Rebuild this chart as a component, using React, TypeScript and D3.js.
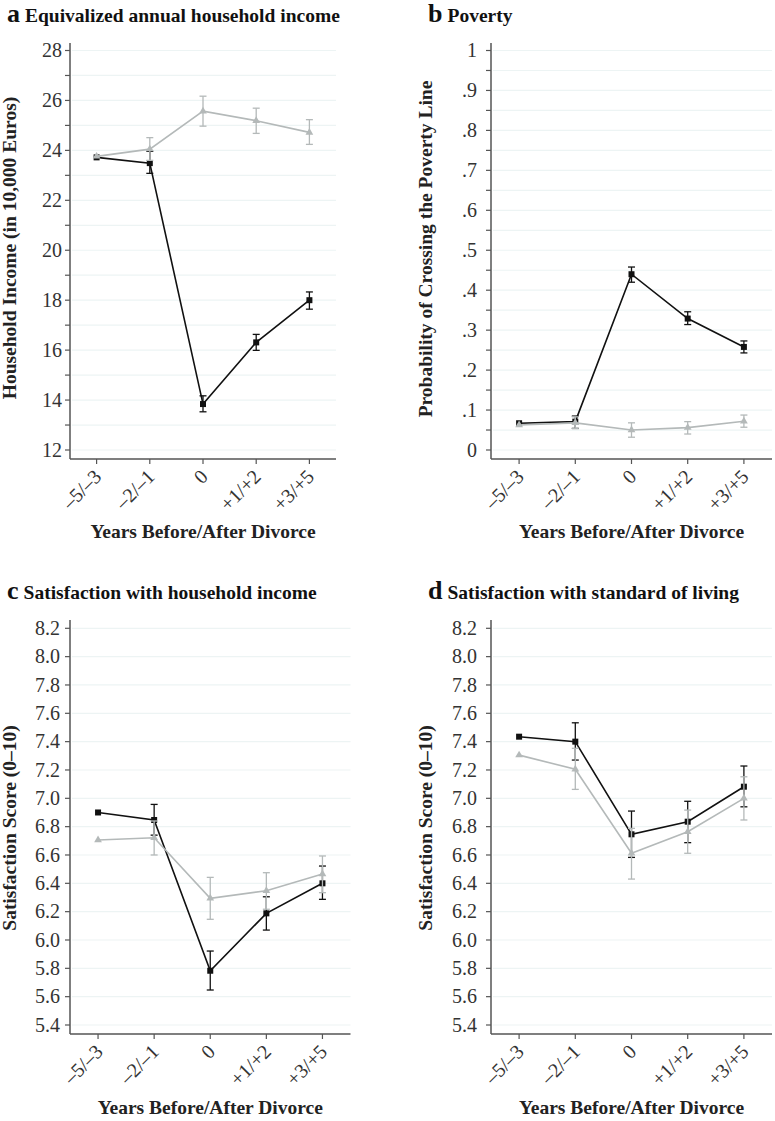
import React from "react";
import * as d3 from "d3";

const periods = ["–5/–3", "–2/–1", "0", "+1/+2", "+3/+5"];

const incomeDiv = [23.72, 23.49, 13.84, 16.31, 18.0];
const incomeDivLo = [null, 23.08, 13.53, 15.99, 17.64];
const incomeDivHi = [null, 23.96, 14.17, 16.63, 18.33];
const incomeCtrl = [23.76, 24.05, 25.57, 25.19, 24.72];
const incomeCtrlLo = [null, 23.6, 24.97, 24.68, 24.24];
const incomeCtrlHi = [null, 24.51, 26.17, 25.69, 25.23];

const povertyDiv = [0.067, 0.071, 0.44, 0.329, 0.258];
const povertyDivLo = [null, 0.054, 0.42, 0.314, 0.243];
const povertyDivHi = [null, 0.085, 0.458, 0.346, 0.273];
const povertyCtrl = [0.0625, 0.068, 0.05, 0.056, 0.072];
const povertyCtrlLo = [null, 0.054, 0.032, 0.04, 0.057];
const povertyCtrlHi = [null, 0.083, 0.068, 0.071, 0.0875];

const incSatDiv = [6.9, 6.847, 5.783, 6.188, 6.4];
const incSatDivLo = [null, 6.74, 5.647, 6.07, 6.287];
const incSatDivHi = [null, 6.957, 5.922, 6.305, 6.522];
const incSatCtrl = [6.706, 6.722, 6.294, 6.348, 6.466];
const incSatCtrlLo = [null, 6.6, 6.146, 6.217, 6.334];
const incSatCtrlHi = [null, 6.84, 6.442, 6.475, 6.593];

const livSatDiv = [7.435, 7.4, 6.746, 6.835, 7.082];
const livSatDivLo = [null, 7.27, 6.583, 6.687, 6.94];
const livSatDivHi = [null, 7.533, 6.91, 6.979, 7.228];
const livSatCtrl = [7.305, 7.205, 6.612, 6.764, 7.0];
const livSatCtrlLo = [null, 7.063, 6.43, 6.612, 6.847];
const livSatCtrlHi = [null, 7.353, 6.788, 6.917, 7.152];

const incomeTicks = [12, 14, 16, 18, 20, 22, 24, 26, 28];
const incomeMinor = [13, 15, 17, 19, 21, 23, 25, 27];
const povertyTicks = [0, 0.1, 0.2, 0.3, 0.4, 0.5, 0.6, 0.7, 0.8, 0.9, 1];
const povertyMinor = [0.05, 0.15, 0.25, 0.35, 0.45, 0.55, 0.65, 0.75, 0.85, 0.95];
const satTicks = [5.4, 5.6, 5.8, 6.0, 6.2, 6.4, 6.6, 6.8, 7.0, 7.2, 7.4, 7.6, 7.8, 8.0, 8.2];

const FONT = "'Liberation Serif', 'Times New Roman', serif";
const BLACK = "#111";
const GRAY = "#b4b9b9";
const GRID = "#edf4f4";
const AXIS = "#555";

type Series = { v: number[]; lo: (number | null)[]; hi: (number | null)[] };

type PanelProps = {
  letter: string;
  title: string;
  ytitle: string;
  left: number;
  right: number;
  frameTop: number;
  frameBottom: number;
  domain: [number, number];
  range: [number, number];
  ticks: number[];
  minor: number[];
  fmt: (v: number) => string;
  labelGap: number;
  div: Series;
  ctrl: Series;
  titleX: number;
  titleY: number;
  ytitleX: number;
  ytitleY: number;
  xtitleY: number;
};

function Panel(p: PanelProps) {
  const x = d3.scalePoint<string>().domain(periods).range([p.left, p.right]).padding(0.5);
  const y = d3.scaleLinear().domain(p.domain).range(p.range);
  const line = d3
    .line<number>()
    .x((_, i) => x(periods[i]) as number)
    .y((d) => y(d));
  const grid = [...p.ticks, ...p.minor];

  const renderSeries = (s: Series, color: string, shape: "square" | "tri") => (
    <g>
      <path d={line(s.v) || ""} fill="none" stroke={color} strokeWidth={1.6} />
      {s.v.map((v, i) => {
        const cx = x(periods[i]) as number;
        const lo = s.lo[i];
        const hi = s.hi[i];
        return (
          <g key={i}>
            {lo != null && hi != null && (
              <g stroke={color} strokeWidth={1.3}>
                <line x1={cx} x2={cx} y1={y(lo)} y2={y(hi)} />
                <line x1={cx - 3.5} x2={cx + 3.5} y1={y(lo)} y2={y(lo)} />
                <line x1={cx - 3.5} x2={cx + 3.5} y1={y(hi)} y2={y(hi)} />
              </g>
            )}
            {shape === "square" ? (
              <rect x={cx - 3} y={y(v) - 3} width={6} height={6} fill={color} />
            ) : (
              <path
                d={d3.symbol().type(d3.symbolTriangle).size(26)() || ""}
                transform={`translate(${cx},${y(v)})`}
                fill={color}
              />
            )}
          </g>
        );
      })}
    </g>
  );

  return (
    <g>
      <text x={p.titleX} y={p.titleY} fontFamily={FONT} fontWeight="bold" fill="#111">
        <tspan fontSize={26}>{p.letter}</tspan>
        <tspan fontSize={19.5} dx={5}>{p.title}</tspan>
      </text>
      {grid.map((t) => (
        <line key={"g" + t} x1={p.left + 2} x2={p.right} y1={y(t)} y2={y(t)} stroke={GRID} strokeWidth={1.2} />
      ))}
      <line x1={p.left} x2={p.left} y1={p.frameTop} y2={p.frameBottom} stroke={AXIS} strokeWidth={1.5} />
      <line x1={p.left} x2={p.right} y1={p.frameBottom} y2={p.frameBottom} stroke={AXIS} strokeWidth={1.5} />
      {grid.map((t) => (
        <line key={"t" + t} x1={p.left - 5} x2={p.left} y1={y(t)} y2={y(t)} stroke={AXIS} strokeWidth={1.2} />
      ))}
      {p.ticks.map((t) => (
        <text
          key={"l" + t}
          x={p.left - p.labelGap}
          y={y(t)}
          dy="0.34em"
          textAnchor="end"
          fontFamily={FONT}
          fontSize={20}
          fill="#333"
        >
          {p.fmt(t)}
        </text>
      ))}
      {periods.map((c) => {
        const cx = x(c) as number;
        return (
          <g key={c}>
            <line x1={cx} x2={cx} y1={p.frameBottom} y2={p.frameBottom + 5} stroke={AXIS} strokeWidth={1.2} />
            <text
              transform={`translate(${cx + 6},${p.frameBottom + 19}) rotate(-45)`}
              textAnchor="end"
              fontFamily={FONT}
              fontSize={20}
              fill="#333"
            >
              {c}
            </text>
          </g>
        );
      })}
      <text
        x={(p.left + p.right) / 2}
        y={p.xtitleY}
        textAnchor="middle"
        fontFamily={FONT}
        fontWeight="bold"
        fontSize={19.5}
        fill="#222"
      >
        Years Before/After Divorce
      </text>
      <text
        transform={`translate(${p.ytitleX},${p.ytitleY}) rotate(-90)`}
        textAnchor="middle"
        fontFamily={FONT}
        fontWeight="bold"
        fontSize={19.5}
        fill="#222"
      >
        {p.ytitle}
      </text>
      {renderSeries(p.div, BLACK, "square")}
      {renderSeries(p.ctrl, GRAY, "tri")}
    </g>
  );
}

const povFmt = (v: number) => (v === 0 ? "0" : v === 1 ? "1" : d3.format(".1f")(v).replace(/^0/, ""));

export default function App() {
  return (
    <svg width={775} height={1121} style={{ position: "absolute", left: 0, top: 0, background: "#fff" }}>
      <Panel
        letter="a"
        title="Equivalized annual household income"
        ytitle="Household Income (in 10,000 Euros)"
        left={70}
        right={336}
        frameTop={43}
        frameBottom={459}
        domain={[12, 28]}
        range={[450, 50.5]}
        ticks={incomeTicks}
        minor={incomeMinor}
        fmt={(v) => String(v)}
        labelGap={8}
        div={{ v: incomeDiv, lo: incomeDivLo, hi: incomeDivHi }}
        ctrl={{ v: incomeCtrl, lo: incomeCtrlLo, hi: incomeCtrlHi }}
        titleX={7}
        titleY={22}
        ytitleX={16}
        ytitleY={248}
        xtitleY={538}
      />
      <Panel
        letter="b"
        title="Poverty"
        ytitle="Probability of Crossing the Poverty Line"
        left={491}
        right={772}
        frameTop={43}
        frameBottom={459}
        domain={[0, 1]}
        range={[450, 50.5]}
        ticks={povertyTicks}
        minor={povertyMinor}
        fmt={povFmt}
        labelGap={14}
        div={{ v: povertyDiv, lo: povertyDivLo, hi: povertyDivHi }}
        ctrl={{ v: povertyCtrl, lo: povertyCtrlLo, hi: povertyCtrlHi }}
        titleX={428}
        titleY={22}
        ytitleX={432}
        ytitleY={249}
        xtitleY={538}
      />
      <Panel
        letter="c"
        title="Satisfaction with household income"
        ytitle="Satisfaction Score (0–10)"
        left={70}
        right={350.5}
        frameTop={620}
        frameBottom={1034}
        domain={[5.4, 8.2]}
        range={[1025, 628.3]}
        ticks={satTicks}
        minor={[]}
        fmt={d3.format(".1f")}
        labelGap={10}
        div={{ v: incSatDiv, lo: incSatDivLo, hi: incSatDivHi }}
        ctrl={{ v: incSatCtrl, lo: incSatCtrlLo, hi: incSatCtrlHi }}
        titleX={7}
        titleY={599}
        ytitleX={16}
        ytitleY={828}
        xtitleY={1114}
      />
      <Panel
        letter="d"
        title="Satisfaction with standard of living"
        ytitle="Satisfaction Score (0–10)"
        left={491}
        right={772}
        frameTop={620}
        frameBottom={1034}
        domain={[5.4, 8.2]}
        range={[1025, 628.3]}
        ticks={satTicks}
        minor={[]}
        fmt={d3.format(".1f")}
        labelGap={14}
        div={{ v: livSatDiv, lo: livSatDivLo, hi: livSatDivHi }}
        ctrl={{ v: livSatCtrl, lo: livSatCtrlLo, hi: livSatCtrlHi }}
        titleX={428}
        titleY={599}
        ytitleX={432}
        ytitleY={828}
        xtitleY={1114}
      />
    </svg>
  );
}
